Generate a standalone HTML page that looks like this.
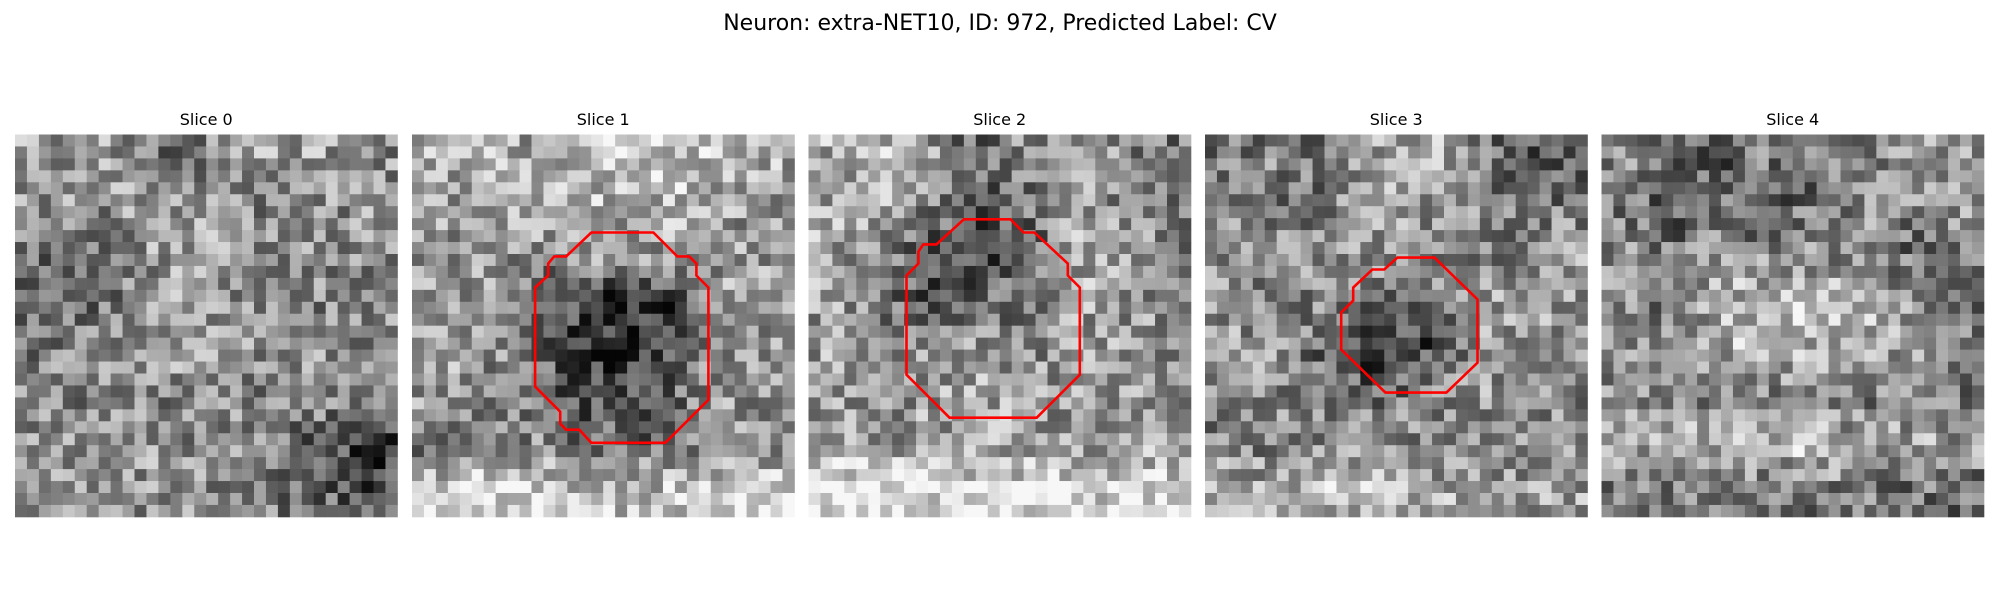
<!DOCTYPE html>
<html><head><meta charset="utf-8"><style>
html,body{margin:0;padding:0;background:#fff;width:2000px;height:600px;overflow:hidden}
svg{display:block;font-family:"DejaVu Sans","Liberation Sans",sans-serif}
</style></head><body>
<svg id="fig" width="2000" height="600" viewBox="0 0 2000 600">
<text x="1000" y="30" text-anchor="middle" font-size="22" fill="#000">Neuron: extra-NET10, ID: 972, Predicted Label: CV</text>
</svg>
<script>
// Coarse 8x8 brightness maps (0=black,1=white)
const slice0Map=[[.62,.6,.58,.45,.6,.62,.6,.55],[.6,.55,.6,.62,.58,.5,.55,.6],[.5,.45,.58,.6,.62,.55,.58,.55],[.38,.45,.55,.6,.58,.58,.5,.55],[.5,.55,.6,.62,.6,.55,.6,.55],[.55,.5,.55,.5,.55,.5,.55,.5],[.6,.6,.6,.58,.55,.5,.4,.3],[.55,.55,.58,.6,.55,.5,.45,.35]];
const slice1Map=[[.65,.7,.62,.72,.75,.72,.7,.65],[.6,.62,.6,.68,.65,.68,.62,.6],[.55,.6,.58,.6,.62,.58,.6,.58],[.62,.6,.45,.3,.22,.35,.62,.6],[.68,.6,.45,.3,.25,.35,.6,.6],[.6,.55,.5,.35,.35,.45,.6,.58],[.45,.5,.55,.5,.45,.45,.55,.55],[.78,.8,.74,.7,.72,.74,.8,.82]];
const slice2Map=[[.65,.68,.6,.4,.55,.6,.55,.5],[.65,.65,.55,.4,.45,.6,.55,.5],[.62,.6,.35,.3,.35,.65,.62,.55],[.6,.5,.4,.45,.5,.62,.6,.55],[.6,.55,.55,.6,.55,.58,.6,.55],[.62,.55,.6,.62,.6,.6,.62,.6],[.6,.6,.62,.65,.6,.58,.6,.62],[.84,.84,.8,.82,.82,.8,.78,.78]];
const slice3Map=[[.45,.55,.45,.6,.68,.55,.4,.35],[.55,.5,.5,.6,.6,.55,.5,.5],[.6,.55,.55,.6,.55,.5,.5,.6],[.55,.5,.55,.45,.45,.6,.62,.6],[.6,.6,.42,.28,.3,.55,.6,.6],[.5,.55,.55,.45,.5,.6,.58,.55],[.55,.5,.55,.6,.55,.55,.55,.55],[.65,.68,.7,.7,.65,.65,.62,.6]];
const slice4Map=[[.55,.5,.4,.5,.45,.55,.6,.6],[.5,.35,.45,.38,.5,.55,.55,.6],[.55,.5,.55,.55,.55,.55,.45,.5],[.6,.4,.68,.7,.7,.68,.6,.45],[.58,.6,.65,.68,.68,.65,.62,.55],[.55,.55,.5,.5,.55,.5,.5,.5],[.68,.65,.7,.72,.7,.65,.65,.6],[.45,.5,.5,.45,.5,.5,.45,.45]];
const sliceMaps=[slice0Map,slice1Map,slice2Map,slice3Map,slice4Map];
const sliceTitles=["Slice 0","Slice 1","Slice 2","Slice 3","Slice 4"];
// Contours in grid-cell units (32x32 grid); null = no contour
const contour1X=[15.0,20.2,22.2,23.2,23.8,23.8,24.8,24.8,21.2,15.0,14.0,12.9,12.4,12.4,10.3,10.3,11.4,11.4,11.9,12.9];
const contour1Y=[8.2,8.2,10.2,10.2,10.8,11.8,12.8,22.2,25.8,25.8,24.7,24.7,24.2,23.2,21.1,12.8,11.8,10.8,10.2,10.2];
const contour2X=[13.0,16.9,18.0,18.9,21.7,21.7,22.7,22.7,19.1,11.8,8.2,8.2,9.2,9.2,9.6,10.7];
const contour2Y=[7.1,7.1,8.2,8.2,10.8,11.8,12.8,20.1,23.7,23.7,20.1,11.8,10.8,9.8,9.2,9.2];
const contour3X=[16.1,19.2,22.8,22.8,20.2,15.1,11.4,11.4,12.4,12.4,14.0,15.0];
const contour3Y=[10.3,10.3,13.8,19.1,21.6,21.6,18.0,14.9,13.9,12.8,11.3,11.3];
const contoursX=[null,contour1X,contour2X,contour3X,null];
const contoursY=[null,contour1Y,contour2Y,contour3Y,null];

const NS="http://www.w3.org/2000/svg";
const svg=document.getElementById('fig');
const N=32, panelW=382.4, panelTop=134.5, panelLefts=[15,412,808.5,1205,1601.5];
const cell=panelW/N;
function sx(i,g){return panelLefts[i]+g*cell;}
function sy(g){return panelTop+g*cell;}
function hash(a,b,c){let h=(a*374761393+b*668265263+c*2147483647)|0;h=(h^(h>>>13))*1274126177|0;h=h^(h>>>16);return ((h>>>0)%1000)/1000;}
function coarse(m,r,c){const fy=(r+0.5)/N*8-0.5, fx=(c+0.5)/N*8-0.5;
 const y0=Math.max(0,Math.min(7,Math.floor(fy))),x0=Math.max(0,Math.min(7,Math.floor(fx)));
 const y1=Math.min(7,y0+1),x1=Math.min(7,x0+1);const ty=Math.max(0,Math.min(1,fy-y0)),tx=Math.max(0,Math.min(1,fx-x0));
 return (m[y0][x0]*(1-tx)+m[y0][x1]*tx)*(1-ty)+(m[y1][x0]*(1-tx)+m[y1][x1]*tx)*ty;}
for(let i=0;i<5;i++){
 const g=document.createElementNS(NS,'g');
 
 
 const m=sliceMaps[i];
 for(let r=0;r<N;r++)for(let c=0;c<N;c++){
  let base=coarse(m,r,c);
  base=0.55+(base-0.55)*1.25;
  let v=base+(hash(i+1,r,c)-0.5)*0.52;
  v=Math.max(0.02,Math.min(0.97,v));const k=Math.round(v*255);
  const rc=document.createElementNS(NS,'rect');
  rc.setAttribute('x',sx(i,c).toFixed(2));rc.setAttribute('y',sy(r).toFixed(2));
  rc.setAttribute('width',(cell+0.4).toFixed(2));rc.setAttribute('height',(cell+0.4).toFixed(2));
  rc.setAttribute('fill','rgb('+k+','+k+','+k+')');
  g.appendChild(rc);
 }
 svg.appendChild(g);
 const t=document.createElementNS(NS,'text');
 t.setAttribute('x',(panelLefts[i]+panelW/2).toFixed(1));t.setAttribute('y','125');
 t.setAttribute('text-anchor','middle');t.setAttribute('font-size','16');
 t.textContent=sliceTitles[i];
 
 
 svg.appendChild(t);
 if(contoursX[i]){
  const xs=contoursX[i],ys=contoursY[i];
  const pts=xs.map((x,j)=>sx(i,x).toFixed(1)+','+sy(ys[j]).toFixed(1)).join(' ');
  const p=document.createElementNS(NS,'polygon');
  p.setAttribute('points',pts);p.setAttribute('fill','none');p.setAttribute('stroke','#ff0000');p.setAttribute('stroke-width','2.6');
  
  
  svg.appendChild(p);
 }
}
</script>
</body></html>
